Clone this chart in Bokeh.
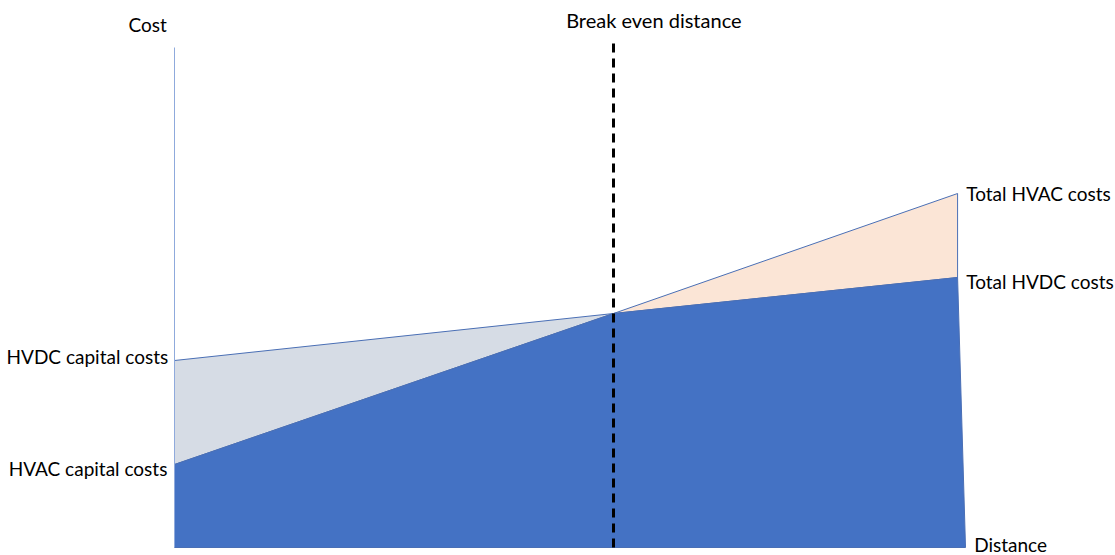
from bokeh.plotting import figure
from bokeh.models import Range1d
from bokeh.core.properties import value
from bokeh.embed import file_html
from bokeh.resources import INLINE

# Data (distance and cost in arbitrary units)
distance = [0, 55.5, 99.0]
distance_bottom_end = 100.0
hvac_total = [16.6, 46.8, 70.8]
hvdc_total = [37.4, 46.8, 54.0]
axis_top = 100.0
dash_top = 102.0

FONT = "Lato"
BLUE = "#4472C4"
EDGE = "#4A6FB5"
GREY = "#D6DCE5"
PEACH = "#FBE5D6"

p = figure(width=1115, height=555, output_backend="svg", toolbar_location=None,
           x_range=Range1d(-174 / 7.91, (1115 - 174) / 7.91),
           y_range=Range1d(-8 / 5.0, 547 / 5.0),
           min_border=0, min_border_left=0, min_border_right=0,
           min_border_top=0, min_border_bottom=0)
p.axis.visible = False
p.grid.visible = False
p.outline_line_color = None
p.background_fill_color = "white"
p.border_fill_color = "white"

# Grey region (HVDC above HVAC before break-even)
p.patch([distance[0], distance[1], distance[0]],
        [hvdc_total[0], hvdc_total[1], hvac_total[0]],
        fill_color=GREY, line_color=EDGE, line_width=1)

# Peach region (HVAC above HVDC after break-even)
p.patch([distance[1], distance[2], distance[2]],
        [hvac_total[1], hvac_total[2], hvdc_total[2]],
        fill_color=PEACH, line_color=EDGE, line_width=1)

# Blue region (lower of the two costs)
p.patch([distance[0], distance[0], distance[1], distance[2], distance_bottom_end],
        [0, hvac_total[0], hvac_total[1], hvdc_total[2], 0],
        fill_color=BLUE, line_color=EDGE, line_width=1)

# Vertical cost axis
p.segment(x0=[distance[0]], y0=[0], x1=[distance[0]], y1=[axis_top],
          line_color="#8FAADC", line_width=1)

# Break even dashed line
p.segment(x0=[distance[1]], y0=[0], x1=[distance[1]], y1=[dash_top],
          line_color="black", line_width=3, line_dash="9 6")

fs = "19px"
# Labels
p.text(x=[distance[0] - 3.4], y=[104.6], text=["Cost"], text_align="center",
       text_baseline="middle", text_font=value(FONT), text_font_size=fs, text_color="black")
p.text(x=[distance[1] + 5.1], y=[105.6], text=["Break even distance"], text_align="center",
       text_baseline="middle", text_font=value(FONT), text_font_size="20px", text_color="black")
p.text(x=[distance[2] + 1.1], y=[hvac_total[2]], text=["Total HVAC costs"], text_align="left",
       text_baseline="middle", text_font=value(FONT), text_font_size=fs, text_color="black")
p.text(x=[distance[2] + 1.1], y=[hvdc_total[2] - 0.8], text=["Total HVDC costs"], text_align="left",
       text_baseline="middle", text_font=value(FONT), text_font_size=fs, text_color="black")
p.text(x=[distance[0] - 0.8], y=[hvdc_total[0] + 0.8], text=["HVDC capital costs"], text_align="right",
       text_baseline="middle", text_font=value(FONT), text_font_size=fs, text_color="black")
p.text(x=[distance[0] - 0.9], y=[hvac_total[0] - 0.8], text=["HVAC capital costs"], text_align="right",
       text_baseline="middle", text_font=value(FONT), text_font_size=fs, text_color="black")
p.text(x=[distance_bottom_end + 1.1], y=[0.7], text=["Distance"], text_align="left",
       text_baseline="middle", text_font=value(FONT), text_font_size=fs, text_color="black")

open("out.html", "w").write(file_html(p, INLINE))
